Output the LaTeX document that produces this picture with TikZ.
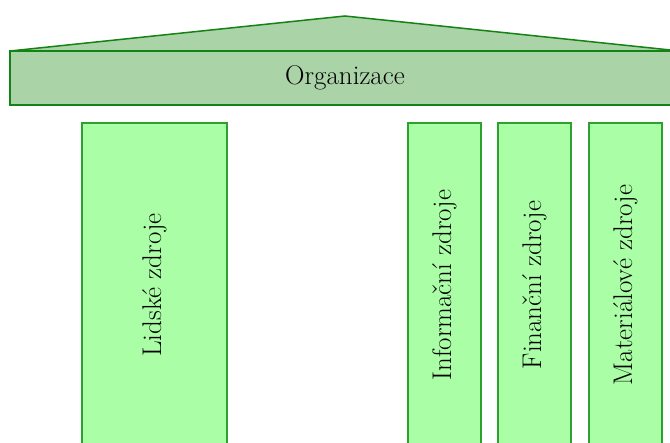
\documentclass[tikz,border=0pt]{standalone}
\usepackage{tikz}
\usetikzlibrary{positioning}

\definecolor{beamfill}{RGB}{171,211,168}
\definecolor{beamline}{RGB}{20,130,20}
\definecolor{pillarfill}{RGB}{170,255,166}
\definecolor{pillarline}{RGB}{45,160,45}

\begin{document}
\begin{tikzpicture}[
    x=1pt, y=-1pt,
    node distance=17pt,
    beam/.style={
        rectangle,
        draw=beamline,
        line width=1.5pt,
        fill=beamfill,
        minimum width=670pt,
        minimum height=54pt,
        inner sep=0pt,
        outer sep=0pt,
        font=\fontsize{27}{32}\selectfont
    },
    pillar/.style={
        rectangle,
        draw=pillarline,
        line width=1.5pt,
        fill=pillarfill,
        minimum width=73pt,
        minimum height=324pt,
        inner sep=0pt,
        outer sep=0pt,
        font=\fontsize{27}{32}\selectfont
    }
]
\useasboundingbox (0,0) rectangle (670,443);
\clip (0,0) rectangle (670,443);

% The roof of the organisation
\node[beam] (org) at (345,78) {Organizace};
\coordinate (apex) at (345,16);
\draw[draw=beamline, line width=1.5pt, fill=beamfill, line join=round]
    (org.north west) -- (apex) -- (org.north east) -- cycle;

% The pillars that hold it
\node[pillar, minimum width=145pt, anchor=north west] (lidske) at (82,123) {\rotatebox{90}{Lidské zdroje}};
\node[pillar, right=181pt of lidske] (info) {\rotatebox{90}{Informační zdroje}};
\node[pillar, right=of info] (fin) {\rotatebox{90}{Finanční zdroje}};
\node[pillar, right=18pt of fin] (mat) {\rotatebox{90}{Materiálové zdroje}};

\end{tikzpicture}
\end{document}
